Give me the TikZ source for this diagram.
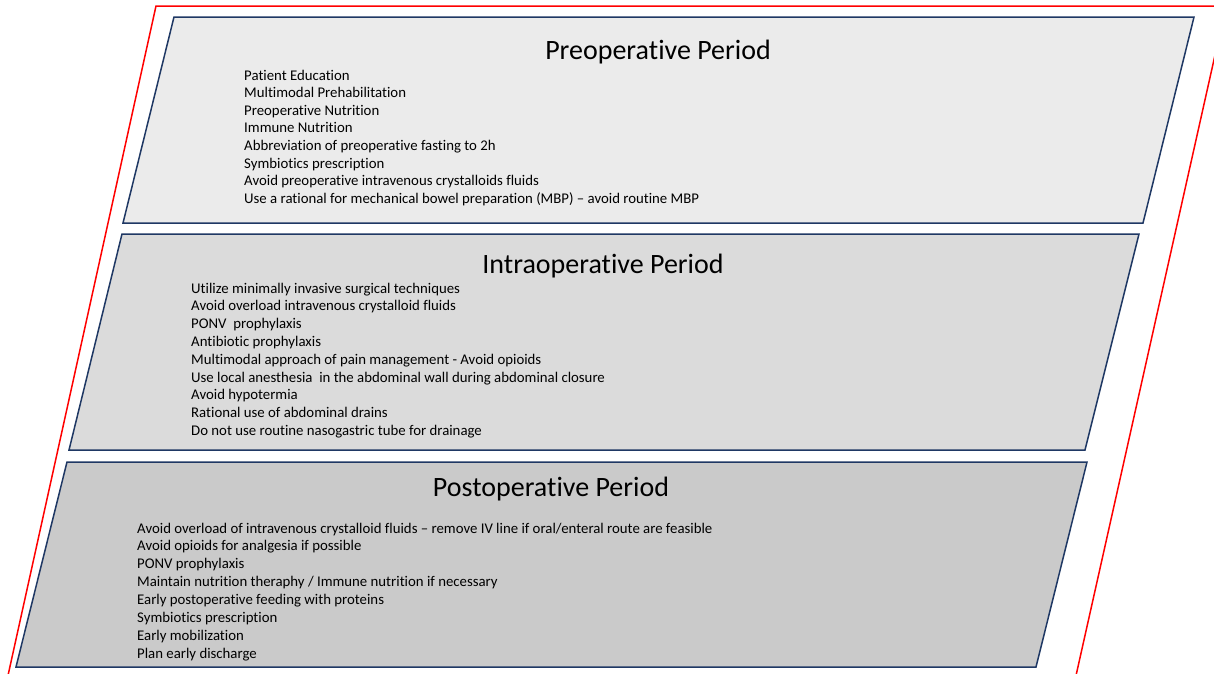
\documentclass[tikz,border=0pt]{standalone}
\usepackage{fontspec}
\setmainfont{Carlito}[Ligatures=NoCommon]
\definecolor{framered}{RGB}{255,0,0}
\definecolor{bandline}{RGB}{31,56,100}
\definecolor{prefill}{RGB}{235,235,235}
\definecolor{intrafill}{RGB}{219,219,219}
\definecolor{postfill}{RGB}{202,202,202}
\tikzset{
  band/.style={draw=bandline, line width=1.5pt, line join=miter},
  periodtitle/.style={anchor=base, inner sep=0pt, font=\fontsize{28}{32}\selectfont},
  listitem/.style={anchor=base west, inner sep=0pt, font=\fontsize{14.8}{17}\selectfont}
}
\begin{document}
\begin{tikzpicture}[x=1pt, y=-1pt]
    \useasboundingbox (0,0) rectangle (1214,673);
    \clip (0,0) rectangle (1214,673);
    % outer frame
    \draw[framered, line width=1.5pt] (7,680) -- (156,6) -- (1226,6) -- (1075,680);
    % the three periods
    \filldraw[band, fill=prefill] (123,223) -- (174,17) -- (1194,17) -- (1143,223) -- cycle;
    \filldraw[band, fill=intrafill] (69,450) -- (122,234) -- (1139,234) -- (1085,450) -- cycle;
    \filldraw[band, fill=postfill] (16,667) -- (67,462) -- (1087,462) -- (1036,667) -- cycle;
    \node[periodtitle] (pre-title) at (658,59) {Preoperative Period};
    \node[periodtitle] (intra-title) at (603,273) {Intraoperative Period};
    \node[periodtitle] (post-title) at (551,496) {Postoperative Period};
    \foreach \txt [count=\i] in {{Patient Education}, {Multimodal Prehabilitation},
      {Preoperative Nutrition}, {Immune Nutrition}, {Abbreviation of preoperative fasting to 2h},
      {Symbiotics prescription}, {Avoid preoperative intravenous crystalloids fluids},
      {Use a rational for mechanical bowel preparation (MBP) – avoid routine MBP}}
      \node[listitem] (pre-\i) at (244,{80+17.6*(\i-1)}) {\txt};
    \foreach \txt [count=\i] in {{Utilize minimally invasive surgical techniques},
      {Avoid overload intravenous crystalloid fluids}, {PONV~ prophylaxis},
      {Antibiotic prophylaxis}, {Multimodal approach of pain management - Avoid opioids},
      {Use local anesthesia~ in the abdominal wall during abdominal closure},
      {Avoid hypotermia}, {Rational use of abdominal drains},
      {Do not use routine nasogastric tube for drainage}}
      \node[listitem] (intra-\i) at (191,{293+17.8*(\i-1)}) {\txt};
    \foreach \txt [count=\i] in {{Avoid overload of intravenous crystalloid fluids – remove IV line if oral/enteral route are feasible},
      {Avoid opioids for analgesia if possible}, {PONV prophylaxis},
      {Maintain nutrition theraphy / Immune nutrition if necessary},
      {Early postoperative feeding with proteins}, {Symbiotics prescription},
      {Early mobilization}, {Plan early discharge}}
      \node[listitem] (post-\i) at (137,{533+17.95*(\i-1)}) {\txt};
\end{tikzpicture}
\end{document}
